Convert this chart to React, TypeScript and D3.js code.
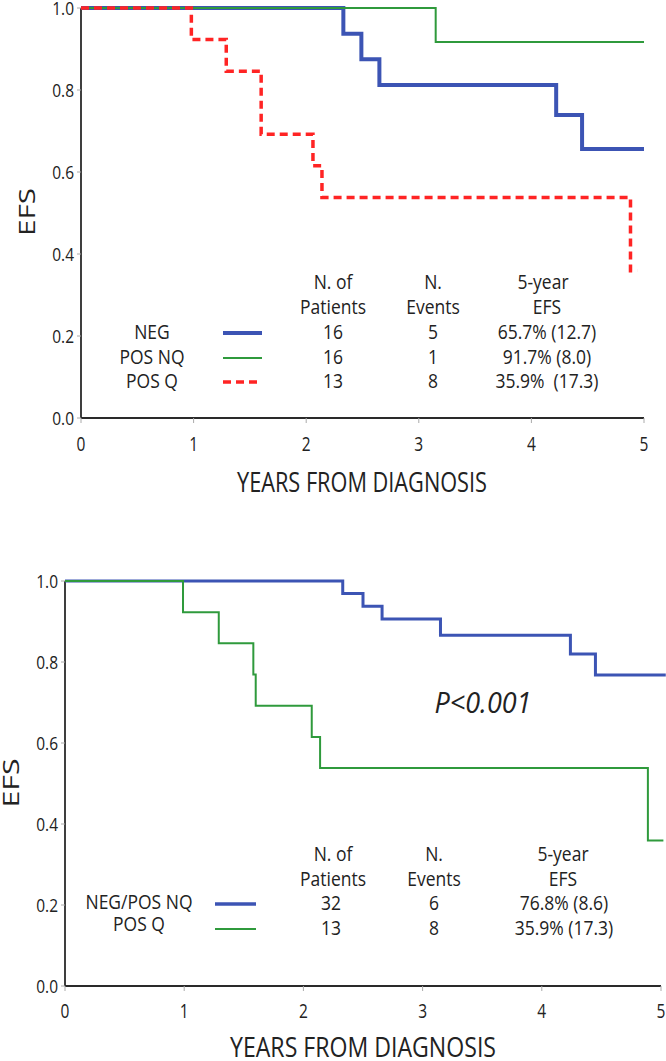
import React from "react";
import * as d3 from "d3";

// ---------- data ----------
const topNegTimes = [0, 2.33, 2.49, 2.65, 4.22, 4.45, 5.0];
const topNegSurv = [1.0, 0.9375, 0.875, 0.8125, 0.739, 0.656, 0.656];
const topPosNqTimes = [0, 3.15, 5.0];
const topPosNqSurv = [1.0, 0.917, 0.917];
const topPosQTimes = [0, 0.98, 1.29, 1.6, 2.06, 2.14, 4.88, 4.94];
const topPosQSurv = [1.0, 0.923, 0.846, 0.692, 0.615, 0.538, 0.359, 0.359];

const botNegTimes = [0, 2.33, 2.5, 2.66, 3.15, 4.24, 4.45, 5.04];
const botNegSurv = [1.0, 0.969, 0.9375, 0.906, 0.866, 0.82, 0.768, 0.768];
const botPosQTimes = [0, 0.99, 1.29, 1.58, 1.6, 2.07, 2.14, 4.89, 5.02];
const botPosQSurv = [1.0, 0.923, 0.846, 0.769, 0.692, 0.615, 0.538, 0.359, 0.359];

const xTicks = [0, 1, 2, 3, 4, 5];
const yTicks = [0.0, 0.2, 0.4, 0.6, 0.8, 1.0];

const topLegendLabels = ["NEG", "POS NQ", "POS Q"];
const topPatients = ["16", "16", "13"];
const topEvents = ["5", "1", "8"];
const topEfs = ["65.7% (12.7)", "91.7% (8.0)", "35.9%  (17.3)"];

const botLegendLabels = ["NEG/POS NQ", "POS Q"];
const botPatients = ["32", "13"];
const botEvents = ["6", "8"];
const botEfs = ["76.8% (8.6)", "35.9% (17.3)"];

const pValue = "P<0.001";
const xTitle = "YEARS FROM DIAGNOSIS";
const yTitle = "EFS";

// ---------- styles ----------
const FONT = "'Open Sans', 'Noto Sans', sans-serif";
const TXT = "#222";
const BLUE = "#3c54b4";
const GREEN = "#2f9a3c";
const RED = "#ff2424";
const AXIS = "#2a2a2a";

type TP = {
  x: number;
  y: number;
  size: number;
  sy?: number;
  anchor?: "start" | "middle" | "end";
  italic?: boolean;
  rotate?: number;
  len?: number;
  children: React.ReactNode;
};

function T({ x, y, size, sy = 1.15, anchor = "middle", italic, rotate, len, children }: TP) {
  const tr = rotate
    ? `translate(${x},${y}) rotate(${rotate}) scale(1,${sy})`
    : `translate(${x},${y}) scale(1,${sy})`;
  return (
    <text
      transform={tr}
      textAnchor={anchor}
      fontFamily={FONT}
      fontSize={size}
      fill={TXT}
      fontStyle={italic ? "italic" : "normal"}
      style={{ whiteSpace: "pre" }}
      textLength={len}
      lengthAdjust={len ? "spacingAndGlyphs" : undefined}
    >
      {children}
    </text>
  );
}

type Series = { times: number[]; surv: number[]; color: string; width: number; dash?: string };

type PanelProps = {
  x0: number;
  x5: number;
  yTop: number;
  yBot: number;
  series: Series[];
  yTickRight: number;
  xTickBaseline: number;
  titleBaseline: number;
  titleCenter: number;
  titleLen: number;
  titleSize: number;
  efsX: number;
  efsY: number;
  efsSize: number;
  efsLen: number;
};

function Panel(p: PanelProps) {
  const xs = d3.scaleLinear().domain([0, 5]).range([p.x0, p.x5]);
  const ys = d3.scaleLinear().domain([0, 1]).range([p.yBot, p.yTop]);
  const line = d3
    .line<[number, number]>()
    .x((d) => xs(d[0]))
    .y((d) => ys(d[1]))
    .curve(d3.curveStepAfter);
  return (
    <g>
      {/* axes */}
      <line x1={p.x0} x2={p.x0} y1={p.yTop} y2={p.yBot} stroke={AXIS} strokeWidth={1.8} />
      <line x1={p.x0} x2={p.x5} y1={p.yBot} y2={p.yBot} stroke={AXIS} strokeWidth={1.8} />
      {xTicks.map((t) => (
        <g key={"xt" + t}>
          <line x1={xs(t)} x2={xs(t)} y1={p.yBot} y2={p.yBot + 5} stroke="#aaa" strokeWidth={1} />
          <T x={xs(t)} y={p.xTickBaseline} size={15.5} sy={1.25}>
            {String(t)}
          </T>
        </g>
      ))}
      {yTicks.map((t) => (
        <g key={"yt" + t}>
          <line x1={p.x0 - 4} x2={p.x0} y1={ys(t)} y2={ys(t)} stroke="#aaa" strokeWidth={1} />
          <T x={p.yTickRight} y={ys(t) + 6.5} size={15.5} sy={1.15} anchor="end">
            {t.toFixed(1)}
          </T>
        </g>
      ))}
      {/* curves */}
      {p.series.map((s, i) => (
        <path
          key={"s" + i}
          d={line(s.times.map((t, j) => [t, s.surv[j]] as [number, number])) || ""}
          fill="none"
          stroke={s.color}
          strokeWidth={s.width}
          strokeDasharray={s.dash}
        />
      ))}
      <T x={p.titleCenter} y={p.titleBaseline} size={p.titleSize} sy={1.2} len={p.titleLen}>
        {xTitle}
      </T>
      <T x={p.efsX} y={p.efsY} size={p.efsSize} sy={1} rotate={-90} len={p.efsLen}>
        {yTitle}
      </T>
    </g>
  );
}

export default function App() {
  const topSeries: Series[] = [
    { times: topNegTimes, surv: topNegSurv, color: BLUE, width: 4 },
    { times: topPosNqTimes, surv: topPosNqSurv, color: GREEN, width: 2 },
    { times: topPosQTimes, surv: topPosQSurv, color: RED, width: 3.5, dash: "8,5" },
  ];
  const botSeries: Series[] = [
    { times: botNegTimes, surv: botNegSurv, color: BLUE, width: 3 },
    { times: botPosQTimes, surv: botPosQSurv, color: GREEN, width: 2 },
  ];

  const topRows = [333, 358, 382];
  const topLineStyles = [
    { c: BLUE, w: 4, d: undefined as string | undefined },
    { c: GREEN, w: 2, d: undefined },
    { c: RED, w: 3.5, d: "8,5" },
  ];
  const botRows = [904, 929];
  const botLabelY = [903, 925];
  const botLineStyles = [
    { c: BLUE, w: 3.5 },
    { c: GREEN, w: 2 },
  ];

  const LS = 17.5;
  const SY = 1.12;
  return (
    <svg
      width={666}
      height={1061}
      style={{ position: "absolute", left: 0, top: 0, background: "#fff" }}
    >
      <rect x={0} y={0} width={666} height={1061} fill="#fff" />
      <Panel
        x0={81}
        x5={644}
        yTop={8}
        yBot={418}
        series={topSeries}
        yTickRight={74}
        xTickBaseline={451}
        titleBaseline={492}
        titleCenter={362}
        titleLen={250}
        titleSize={22}
        efsX={35}
        efsY={212}
        efsSize={21}
        efsLen={48}
      />
      {/* top legend */}
      <T x={333} y={289} size={LS} sy={SY}>N. of</T>
      <T x={333} y={314} size={LS} sy={SY}>Patients</T>
      <T x={433} y={289} size={LS} sy={SY}>N.</T>
      <T x={433} y={314} size={LS} sy={SY}>Events</T>
      <T x={543} y={289} size={LS} sy={SY}>5-year</T>
      <T x={547} y={314} size={LS} sy={SY}>EFS</T>
      {topRows.map((y, i) => (
        <g key={"tl" + i}>
          <T x={152} y={y + 6} size={LS} sy={SY}>{topLegendLabels[i]}</T>
          <line
            x1={223}
            x2={262}
            y1={y}
            y2={y}
            stroke={topLineStyles[i].c}
            strokeWidth={topLineStyles[i].w}
            strokeDasharray={topLineStyles[i].d}
          />
          <T x={333} y={y + 6} size={LS} sy={SY}>{topPatients[i]}</T>
          <T x={433} y={y + 6} size={LS} sy={SY}>{topEvents[i]}</T>
          <T x={547} y={y + 6} size={LS} sy={SY}>{topEfs[i]}</T>
        </g>
      ))}

      <Panel
        x0={65}
        x5={661}
        yTop={581}
        yBot={986}
        series={botSeries}
        yTickRight={58}
        xTickBaseline={1018}
        titleBaseline={1057}
        titleCenter={363}
        titleLen={266}
        titleSize={22}
        efsX={19}
        efsY={783}
        efsSize={22}
        efsLen={49}
      />
      <T x={483} y={713} size={27} sy={1.1} italic>{pValue}</T>
      {/* bottom legend */}
      <T x={333} y={861} size={LS} sy={SY}>N. of</T>
      <T x={333} y={886} size={LS} sy={SY}>Patients</T>
      <T x={434} y={861} size={LS} sy={SY}>N.</T>
      <T x={434} y={886} size={LS} sy={SY}>Events</T>
      <T x={563} y={861} size={LS} sy={SY}>5-year</T>
      <T x={563} y={886} size={LS} sy={SY}>EFS</T>
      {botRows.map((y, i) => (
        <g key={"bl" + i}>
          <T x={139} y={botLabelY[i] + 6} size={LS} sy={SY}>{botLegendLabels[i]}</T>
          <line x1={215} x2={256} y1={y} y2={y} stroke={botLineStyles[i].c} strokeWidth={botLineStyles[i].w} />
          <T x={331} y={y + 6} size={LS} sy={SY}>{botPatients[i]}</T>
          <T x={434} y={y + 6} size={LS} sy={SY}>{botEvents[i]}</T>
          <T x={564} y={y + 6} size={LS} sy={SY}>{botEfs[i]}</T>
        </g>
      ))}
    </svg>
  );
}
